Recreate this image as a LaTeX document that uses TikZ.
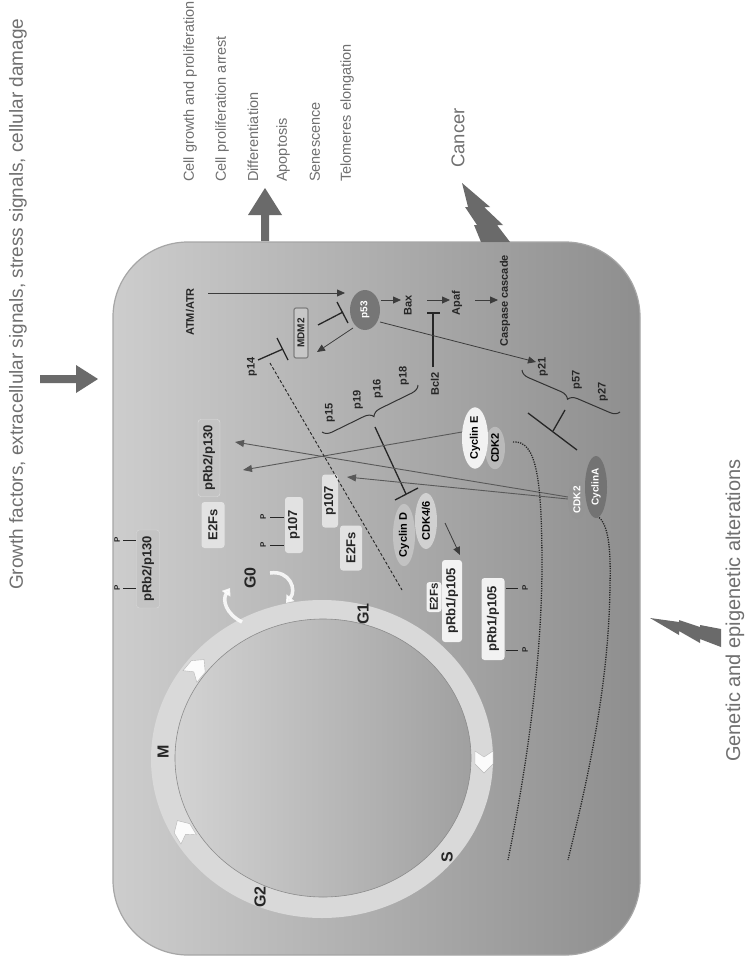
\documentclass[tikz,border=0pt]{standalone}
\usepackage{fontspec}
\setmainfont{Liberation Sans}
\usetikzlibrary{arrows.meta,decorations.pathreplacing,shapes.geometric}
\definecolor{cellL}{HTML}{CDCDCD}
\definecolor{cellR}{HTML}{8E8E8E}
\definecolor{cellE}{HTML}{A6A6A6}
\definecolor{ringC}{HTML}{D9D9D9}
\definecolor{inL}{HTML}{D3D3D3}
\definecolor{inR}{HTML}{A0A0A0}
\definecolor{txtG}{HTML}{707070}
\definecolor{arrG}{HTML}{6A6A6A}
\definecolor{lineG}{HTML}{3C3C3C}
\definecolor{boxW}{HTML}{F2F2F2}
\definecolor{boxL}{HTML}{E2E2E2}
\definecolor{boxG}{HTML}{C4C4C4}
\definecolor{ellD}{HTML}{767676}
\tikzset{
  outer/.style={rotate=90, anchor=west, inner sep=0pt, text=txtG, font=\fontsize{14.5}{16}\selectfont},
  lab/.style={rotate=90, inner sep=0pt, text=black!85, font=\bfseries\fontsize{11}{12}\selectfont},
  phase/.style={rotate=90, inner sep=0pt, text=black!85, font=\bfseries\fontsize{16}{18}\selectfont},
  pbox/.style={rotate=90, inner sep=0pt, rounded corners=3pt, text=black!85, font=\bfseries\fontsize{13}{14}\selectfont},
  plab/.style={rotate=90, inner sep=0pt, text=black!85, font=\bfseries\fontsize{8}{9}\selectfont},
  ell/.style={ellipse, rotate=90, inner sep=0pt, font=\bfseries\fontsize{11}{12}\selectfont},
  conn/.style={draw=lineG, line width=0.8pt, -{Triangle[length=8pt,width=7pt]}},
  link/.style={draw=black!65, line width=0.9pt, -{Triangle[length=9pt,width=7pt]}},
  inh/.style={draw=black!85, line width=1.3pt},
  stem/.style={draw=black!85, line width=0.8pt},
  dotl/.style={draw=black!85, line width=1.3pt, dash pattern=on 1.2pt off 1.2pt},
  g0arr/.style={draw=white, line width=3.5pt, opacity=0.85, -{Triangle[length=7pt,width=10pt]}},
  chev/.pic={\filldraw[fill=white, draw=gray!60, line width=0.4pt, opacity=0.9]
     (-11,-9) -- (2,-9) -- (11,0) -- (2,9) -- (-11,9) -- (-5,0) -- cycle;}
}
\begin{document}
\begin{tikzpicture}[x=1pt,y=-1pt]
\useasboundingbox (0,0) rectangle (744,963);
\fill[white] (0,0) rectangle (744,963);

% cell
\shade[left color=cellL, right color=cellR, rounded corners=75pt] (113,242) rectangle (640,955);
\draw[cellE, line width=1.2pt, rounded corners=75pt] (113,242) rectangle (640,955);

% cell cycle ring
\fill[ringC] (322,759) ellipse [x radius=171, y radius=159];
\shade[left color=inL, right color=inR] (323,758) ellipse [x radius=148, y radius=139];
\draw[black!45, line width=0.6pt] (323,758) ellipse [x radius=148, y radius=139];
\pic[rotate=50] at (197,668) {chev};
\pic[rotate=121] at (183,830) {chev};
\pic[rotate=-90] at (484,762) {chev};

% G0 arrows
\coordinate (g0a1) at (242,622); \coordinate (g0a2) at (230,588);
\coordinate (g0b1) at (270,573); \coordinate (g0b2) at (286,603);
\draw[g0arr] (g0a1) .. controls (226,614) and (222,600) .. (g0a2);
\draw[g0arr] (g0b1) .. controls (290,570) and (297,590) .. (g0b2);

% phase labels
\node[phase] (G0) at (250,578) {G0};
\node[phase] (G1) at (363,614) {G1};
\node[phase] (M) at (163,752) {M};
\node[phase] (G2) at (260,897) {G2};
\node[phase] (S) at (447,857) {S};

% outside texts
\node[outer] (o1) at (190,182) {Cell growth and proliferation};
\node[outer] (o2) at (222,182) {Cell proliferation arrest};
\node[outer] (o3) at (253,182) {Differentiation};
\node[outer] (o4) at (283,182) {Apoptosis};
\node[outer] (o5) at (315,182) {Senescence};
\node[outer] (o6) at (347,182) {Telomeres elongation};
\node[outer, anchor=center, font=\fontsize{18.5}{20}\selectfont] (cancer) at (458,138) {Cancer};
\node[outer, font=\fontsize{20}{22}\selectfont] (genetic) at (735,762) {Genetic and epigenetic alterations};
\node[outer, font=\fontsize{19}{21}\selectfont] (growth) at (18,590) {Growth factors, extracellular signals, stress signals, cellular damage};

% big arrows
\fill[arrG] (261,241) -- (261,215) -- (248,215) -- (265,188) -- (282,215) -- (269,215) -- (269,241) -- cycle;
\fill[arrG] (40,375) -- (76,375) -- (76,365) -- (98,379) -- (76,393) -- (76,383) -- (40,383) -- cycle;
% lightning bolts
\fill[arrG] (462,183) -- (490,207) -- (484,207) -- (503,225) -- (497,225) -- (510,242)
   -- (481,242) -- (474,225) -- (477,225) -- (465,207) -- (468,207) -- cycle;
\fill[arrG] (650,618) -- (679,635) -- (679,631) -- (700,643) -- (700,639) -- (721,647)
   -- (721,629) -- (700,625) -- (700,627) -- (679,620) -- (679,622) -- cycle;

% boxes
\node[pbox, fill=boxG, draw=black!15, minimum width=78pt, minimum height=23pt] (pRbL) at (148,569) {pRb2/p130};
\node[pbox, fill=boxG, draw=black!12, minimum width=77pt, minimum height=22pt] (pRbM) at (209,458) {pRb2/p130};
\node[pbox, fill=boxL, minimum width=46pt, minimum height=23pt] (e2f1) at (213,525) {E2Fs};
\node[pbox, fill=boxL, minimum width=56pt, minimum height=18pt] (p107P) at (294,525) {p107};
\node[pbox, fill=boxL, minimum width=53pt, minimum height=16pt] (p107) at (330,501) {p107};
\node[pbox, fill=boxL, minimum width=45pt, minimum height=22pt] (e2f2) at (351,548) {E2Fs};
\node[pbox, fill=boxW, minimum width=30pt, minimum height=15pt, font=\bfseries\fontsize{11.5}{12}\selectfont] (e2f3) at (434,597) {E2Fs};
\node[pbox, fill=boxW, minimum width=82pt, minimum height=20pt] (pRb1a) at (452,601) {pRb1/p105};
\node[pbox, fill=boxW, minimum width=82pt, minimum height=23pt] (pRb1b) at (493,619) {pRb1/p105};
\node[pbox, fill=black!22, draw=black!50, line width=1.2pt, minimum width=50pt, minimum height=14pt, rounded corners=2pt, font=\bfseries\fontsize{10}{11}\selectfont] (mdm2) at (301,333) {MDM2};

% phosphate groups
\node[plab] (P1) at (117,540) {P}; \node[plab] (P2) at (117,588) {P};
\coordinate (s1a) at (123,540); \coordinate (s1b) at (136,540);
\coordinate (s2a) at (123,588); \coordinate (s2b) at (136,588);
\node[plab] (P3) at (263,517) {P}; \node[plab] (P4) at (263,545) {P};
\coordinate (s3a) at (270,517); \coordinate (s3b) at (284,517);
\coordinate (s4a) at (270,545); \coordinate (s4b) at (284,545);
\node[plab] (P5) at (525,588) {P}; \node[plab] (P6) at (525,650) {P};
\coordinate (s5a) at (506,588); \coordinate (s5b) at (518,588);
\coordinate (s6a) at (506,650); \coordinate (s6b) at (518,650);
\draw[stem] (s1a) -- (s1b); \draw[stem] (s2a) -- (s2b);
\draw[stem] (s3a) -- (s3b); \draw[stem] (s4a) -- (s4b);
\draw[stem] (s5a) -- (s5b); \draw[stem] (s6a) -- (s6b);

% small labels
\node[lab] (atm) at (190,312) {ATM/ATR};
\node[lab] (bax) at (408,305) {Bax};
\node[lab] (apaf) at (457,303) {Apaf};
\node[lab] (casp) at (505,301) {Caspase cascade};
\node[lab] (bcl2) at (435,384) {Bcl2};
\node[lab] (p14) at (252,367) {p14};
\node[lab] (p15) at (330,413) {p15};
\node[lab] (p19) at (358,400) {p19};
\node[lab] (p16) at (378,389) {p16};
\node[lab] (p18) at (404,376) {p18};
\node[lab] (p21) at (543,367) {p21};
\node[lab] (p57) at (577,380) {p57};
\node[lab] (p27) at (603,392) {p27};

% connector coordinates
\coordinate (c1a) at (208,293); \coordinate (c1b) at (345,293);
\coordinate (c2a) at (381,300); \coordinate (c2b) at (401,300);
\coordinate (c3a) at (427,300); \coordinate (c3b) at (450,300);
\coordinate (c4a) at (475,300); \coordinate (c4b) at (498,300);
\coordinate (b1a) at (433,367); \coordinate (b1b) at (433,313);
\coordinate (b1l) at (427,313); \coordinate (b1r) at (440,313);
\coordinate (m1a) at (318,325); \coordinate (m1b) at (343,312);
\coordinate (m1l) at (337,302); \coordinate (m1r) at (348,323);
\coordinate (m2a) at (353,328); \coordinate (m2b) at (317,352);
\coordinate (k1a) at (258,360); \coordinate (k1b) at (283,349);
\coordinate (k1l) at (277,338); \coordinate (k1r) at (288,360);
\coordinate (d1a) at (270,363); \coordinate (d1b) at (402,590);
\coordinate (q1a) at (380,322); \coordinate (q1b) at (536,362);
\coordinate (br1a) at (418,385); \coordinate (br1b) at (322,432);
\coordinate (i1a) at (375,427); \coordinate (i1b) at (406,494);
\coordinate (i1l) at (395,500); \coordinate (i1r) at (418,488);
\coordinate (br2a) at (620,412); \coordinate (br2b) at (522,370);
\coordinate (i2a) at (565,410); \coordinate (i2b) at (553,431);
\coordinate (i2l) at (528,413); \coordinate (i2r) at (577,450);
\coordinate (e1a) at (462,432); \coordinate (e1b) at (243,470);
\coordinate (a1a) at (568,497); \coordinate (a1b) at (235,442);
\coordinate (a2a) at (568,499); \coordinate (a2b) at (347,477);
\coordinate (r1a) at (445,523); \coordinate (r1b) at (460,555);

\draw[conn] (c1a) -- (c1b);
\draw[conn] (c2a) -- (c2b);
\draw[conn] (c3a) -- (c3b);
\draw[conn] (c4a) -- (c4b);
\draw[inh] (b1a) -- (b1b); \draw[inh] (b1l) -- (b1r);
\draw[inh] (m1a) -- (m1b); \draw[inh] (m1l) -- (m1r);
\draw[conn] (m2a) -- (m2b);
\draw[inh] (k1a) -- (k1b); \draw[inh] (k1l) -- (k1r);
\draw[conn] (q1a) -- (q1b);
\draw[decorate, decoration={brace, amplitude=9pt}, line width=1pt, black!80] (br1a) -- (br1b);
\draw[decorate, decoration={brace, amplitude=9pt}, line width=1pt, black!80] (br2a) -- (br2b);
\draw[inh] (i1a) -- (i1b); \draw[inh] (i1l) -- (i1r);
\draw[inh] (i2a) -- (i2b); \draw[inh] (i2l) -- (i2r);
\draw[link] (e1a) -- (e1b);
\draw[link] (a1a) -- (a1b);
\draw[link] (a2a) -- (a2b);
\draw[conn] (r1a) -- (r1b);
\draw[black!85, line width=0.9pt, dash pattern=on 3pt off 2pt] (d1a) -- (d1b);

% dotted curves
\coordinate (dt1a) at (513,442); \coordinate (dt1b) at (542,570); \coordinate (dt1c) at (508,860);
\coordinate (dt2a) at (595,515); \coordinate (dt2b) at (610,585); \coordinate (dt2c) at (568,860);
\draw[dotl] (dt1a) .. controls (537,440) and (542,480) .. (dt1b) .. controls (541,680) and (522,790) .. (dt1c);
\draw[dotl] (dt2a) .. controls (608,520) and (611,545) .. (dt2b) .. controls (609,690) and (585,790) .. (dt2c);

% ellipses
\node[ell, fill=ellD, text=white, minimum width=40pt, minimum height=30pt, font=\bfseries\fontsize{10}{11}\selectfont] (p53) at (365,310) {p53};
\node[ell, fill=black!27, minimum width=40pt, minimum height=20pt] (cdk2e) at (495,448) {CDK2};
\node[ell, fill=black!5, minimum width=60pt, minimum height=26pt] (cycE) at (475,438) {Cyclin E};
\node[ell, fill=black!18, minimum width=56pt, minimum height=22pt] (cdk46) at (426,521) {CDK4/6};
\node[ell, fill=black!24, minimum width=58pt, minimum height=22pt] (cycD) at (404,535) {Cyclin D};
\node[ell, fill=black!42, text=white, minimum width=34pt, minimum height=18pt, font=\bfseries\fontsize{10}{11}\selectfont] (cdk2a) at (577,500) {CDK2};
\node[ell, fill=black!55, text=white, minimum width=62pt, minimum height=22pt, font=\bfseries\fontsize{10}{11}\selectfont] (cycA) at (596,487) {CyclinA};
\end{tikzpicture}
\end{document}
